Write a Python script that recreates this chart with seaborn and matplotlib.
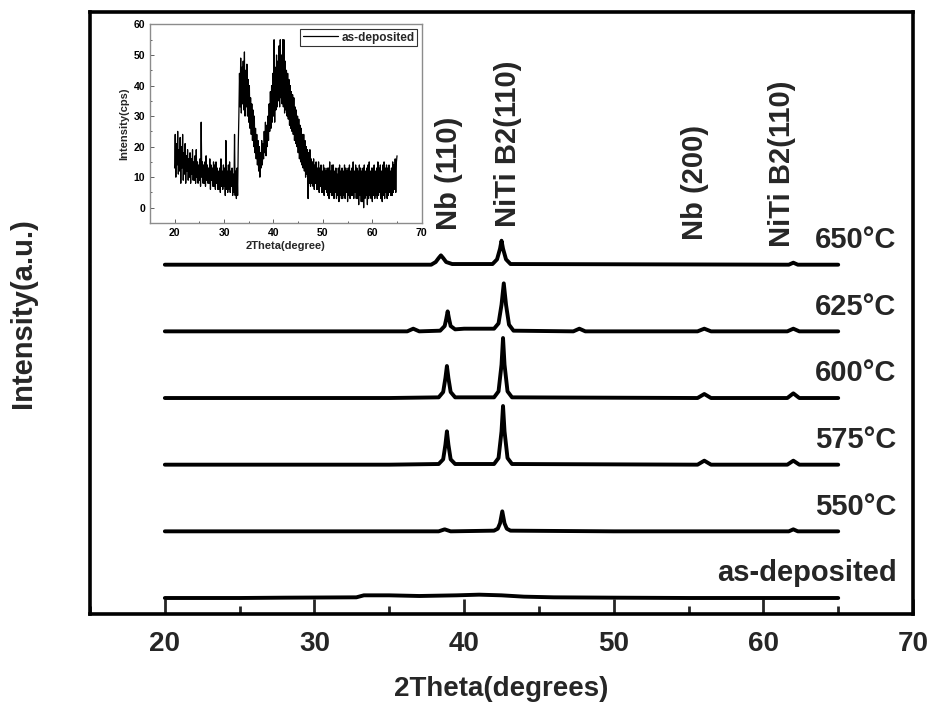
import numpy as np
import pandas as pd
import matplotlib
matplotlib.use("Agg")
import matplotlib.pyplot as plt
from matplotlib.ticker import MultipleLocator
import seaborn as sns

sns.set_style("white")
plt.rcParams['font.family'] = ['Liberation Sans', 'DejaVu Sans']
plt.rcParams['font.weight'] = 'bold'
plt.rcParams['axes.labelweight'] = 'bold'

# XRD patterns, y relative to each baseline
labels = ['as-deposited', '550°C', '575°C', '600°C', '625°C', '650°C']
offsets = [0, 100, 200, 300, 400, 500]

x_asdep = [20, 25, 28, 32.8, 33.3, 35, 37, 39.5, 41, 42.5, 44, 46, 50, 55, 60, 65]
y_asdep = [0, 0, 0.5, 1, 4, 4, 3, 4, 5, 4, 2, 1, 0.5, 0, 0, 0]

x_550 = [20, 30, 38.3, 38.7, 39.1, 42.0, 42.25, 42.4, 42.55, 42.7, 42.85, 43.1, 50, 61.7, 62.0, 62.3, 65]
y_550 = [0, 0, 0, 3, 0, 1, 4, 12, 30, 12, 4, 1, 0, 0, 3, 0, 0]

x_575 = [20, 35, 38.3, 38.6, 38.75, 38.85, 38.95, 39.1, 39.4, 42.0, 42.3, 42.5, 42.6,
         42.7, 42.9, 43.2, 55.6, 56.05, 56.5, 61.6, 62.0, 62.4, 65]
y_575 = [0, 0, 1, 8, 30, 50, 30, 8, 1, 1, 10, 50, 88, 50, 10, 1, 0, 6, 0, 0, 6, 0, 0]

x_600 = [20, 35, 38.3, 38.6, 38.75, 38.85, 38.95, 39.1, 39.4, 42.0, 42.3, 42.5, 42.6,
         42.7, 42.9, 43.2, 55.6, 56.05, 56.5, 61.6, 62.0, 62.4, 65]
y_600 = [0, 0, 1, 9, 30, 48, 30, 9, 1, 1, 10, 50, 90, 50, 10, 1, 0, 6, 0, 0, 7, 0, 0]

x_625 = [20, 30, 36.2, 36.6, 37.0, 38.4, 38.7, 38.8, 38.9, 39.0, 39.1, 39.4, 40.0, 41.0,
         42.0, 42.3, 42.5, 42.65, 42.8, 43.0, 43.3, 47.3, 47.7, 48.1, 55.6, 56.05, 56.5,
         61.6, 62.0, 62.4, 65]
y_625 = [0, 0, 0, 4, 0, 1, 8, 18, 30, 18, 8, 3, 4, 4, 4, 12, 40, 72, 40, 10, 1, 0, 4, 0,
         0, 4, 0, 0, 4, 0, 0]

x_650 = [20, 30, 37.8, 38.1, 38.3, 38.45, 38.6, 38.8, 39.2, 41.9, 42.2, 42.4, 42.5, 42.6,
         42.8, 43.1, 61.7, 62.0, 62.3, 65]
y_650 = [0, 0, 0, 4, 10, 14, 10, 4, 1, 1, 8, 24, 36, 24, 8, 1, 0, 3, 0, 0]

curves_x = [x_asdep, x_550, x_575, x_600, x_625, x_650]
curves_y = [y_asdep, y_550, y_575, y_600, y_625, y_650]

# peak labels: text, 2theta position
peak_names = ['Nb (110)', 'NiTi B2(110)', 'Nb (200)', 'NiTi B2(110)']
peak_pos = [39.0, 42.9, 55.45, 61.25]
peak_base = [552, 556, 537, 526]

# inset: as-deposited raw counts, 0.125 degree steps from 20 to 65
inset_y = [
    13, 24, 10, 21, 14, 25, 11, 19,  12, 23, 8, 20, 13, 24, 9, 18,
    11, 21, 8, 17, 12, 19, 9, 16,  10, 18, 8, 16, 11, 19, 9, 15,
    9, 17, 8, 19, 10, 15, 8, 14,  9, 16, 7, 28, 10, 15, 8, 14,
    8, 15, 7, 17, 9, 14, 8, 13,  8, 16, 6, 14, 9, 13, 7, 15,
    7, 14, 6, 15, 8, 13, 6, 12,  6, 13, 5, 16, 7, 12, 6, 14,
    7, 13, 4, 22, 6, 12, 5, 14,  6, 15, 5, 12, 7, 13, 4, 11,
    5, 24, 4, 12, 3, 13, 4, 20,  30, 44, 33, 49, 31, 46, 34, 48,
    32, 51, 30, 45, 33, 47, 30, 42,  28, 40, 26, 36, 24, 34, 22, 32,
    20, 30, 18, 26, 16, 24, 14, 22,  12, 20, 10, 18, 13, 22, 14, 21,
    16, 25, 18, 28, 17, 27, 20, 30,  22, 34, 25, 38, 26, 40, 28, 44,
    30, 55, 28, 46, 32, 50, 33, 48,  35, 53, 33, 55, 36, 50, 34, 55,
    33, 55, 31, 48, 32, 45, 30, 44,  29, 42, 27, 40, 26, 38, 25, 37,
    24, 36, 22, 33, 21, 32, 20, 30,  18, 29, 16, 27, 15, 26, 14, 24,
    13, 24, 12, 22, 10, 20, 11, 19,  3, 18, 8, 19, 7, 16, 8, 15,
    7, 16, 6, 14, 8, 15, 6, 13,  6, 15, 5, 13, 7, 14, 5, 12,
    5, 14, 4, 13, 6, 12, 5, 13,  4, 13, 3, 15, 5, 12, 4, 14,
    4, 14, 3, 12, 5, 13, 3, 11,  4, 13, 2, 14, 4, 12, 3, 13,
    3, 12, 4, 14, 3, 13, 5, 12,  2, 13, 4, 14, 3, 12, 4, 13,
    4, 15, 3, 12, 5, 14, 3, 13,  3, 12, 1, 14, 4, 13, 2, 12,
    2, 13, 0, 14, 3, 12, 4, 13,  1, 14, 3, 15, 4, 12, 3, 13,
    2, 13, 4, 14, 3, 12, 4, 13,  3, 15, 4, 13, 5, 14, 3, 12,
    2, 14, 4, 15, 3, 13, 5, 14,  3, 13, 4, 14, 5, 12, 4, 13,
    4, 15, 5, 14, 6, 16, 5, 15,  17,
]
inset_x = 20 + 0.125 * np.arange(len(inset_y))

fig = plt.figure(figsize=(9.31, 7.09), dpi=100)
ax = fig.add_axes([0.0967, 0.134, 0.884, 0.849])

for lab, off, xs, ys in zip(labels, offsets, curves_x, curves_y):
    df = pd.DataFrame({'x': xs, 'y': np.array(ys) + off})
    sns.lineplot(data=df, x='x', y='y', ax=ax, color='black', lw=2.8,
                 sort=False, estimator=None, solid_joinstyle='round')
    ax.text(68.9, off + 37, lab, ha='right', va='center', fontsize=21, fontweight='bold')

for name, pos, base in zip(peak_names, peak_pos, peak_base):
    ax.text(pos, base, name, rotation=90, ha='center', va='bottom',
            fontsize=21, fontweight='bold')

ax.set_xlim(15, 70)
ax.set_ylim(-24, 879)
ax.set_yticks([])
ax.xaxis.set_major_locator(MultipleLocator(10))
ax.xaxis.set_minor_locator(MultipleLocator(5))
ax.tick_params(axis='x', which='major', direction='in', length=11, width=2,
               labelsize=20, pad=12, bottom=True)
ax.tick_params(axis='x', which='minor', direction='in', length=6, width=2, bottom=True)
for s in ax.spines.values():
    s.set_linewidth(2.6)
    s.set_color('black')
ax.set_xlabel('2Theta(degrees)', fontsize=20, labelpad=14)
ax.set_ylabel('Intensity(a.u.)', fontsize=21, labelpad=38)

# inset
ins = fig.add_axes([0.161, 0.6855, 0.292, 0.28])
sns.lineplot(x=inset_x, y=inset_y, ax=ins, color='black', lw=0.9,
             label='as-deposited', sort=False, estimator=None)
ins.set_xlim(15, 70)
ins.set_ylim(-5, 60)
ins.xaxis.set_major_locator(MultipleLocator(10))
ins.xaxis.set_minor_locator(MultipleLocator(5))
ins.yaxis.set_major_locator(MultipleLocator(10))
ins.yaxis.set_minor_locator(MultipleLocator(5))
ins.tick_params(which='both', direction='in', labelsize=7.5, colors='#606060',
                labelcolor='black', left=True, bottom=True)
ins.tick_params(which='major', length=3, width=0.7)
ins.tick_params(which='minor', length=1.5, width=0.7)
for s in ins.spines.values():
    s.set_linewidth(1)
    s.set_color('#8c8c8c')
ins.set_xlabel('2Theta(degree)', fontsize=8, labelpad=2)
ins.set_ylabel('Intensity(cps)', fontsize=8, labelpad=3)
leg = ins.legend(loc='upper right', fontsize=8.5, frameon=True, fancybox=False,
                 borderpad=0.2, handlelength=3.0, handletextpad=0.3, borderaxespad=0.4)
leg.get_frame().set_edgecolor('black')
leg.get_frame().set_linewidth(0.8)
for t in leg.get_texts():
    t.set_fontweight('bold')

fig.savefig('out.png', dpi=100)
